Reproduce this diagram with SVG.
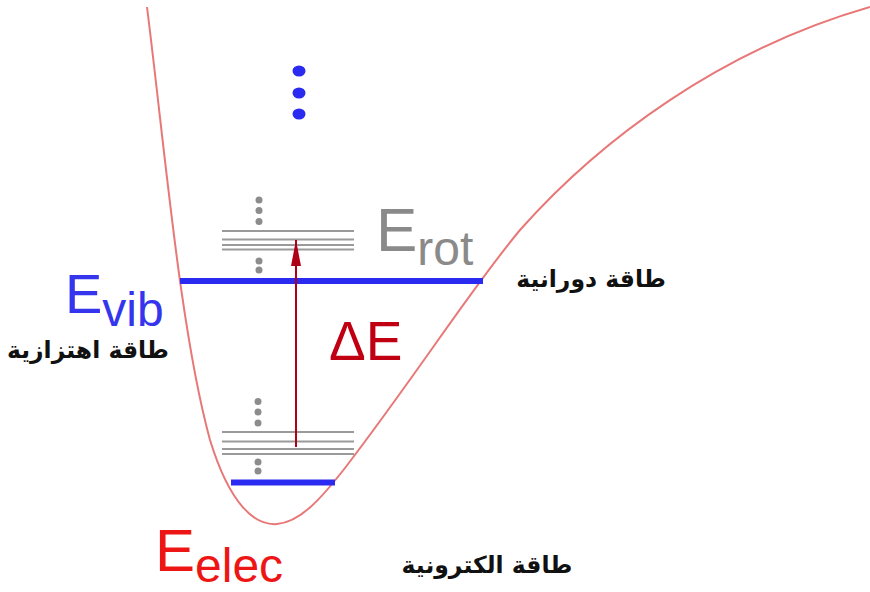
<svg xmlns="http://www.w3.org/2000/svg" width="870" height="592" viewBox="0 0 870 592">
<style>
.curve{fill:none;stroke:#e87878;stroke-width:2}
.lvl{stroke:#2a2af0;stroke-width:6}
.rot{stroke:#9a9a9a;stroke-width:2}
.gd{fill:#8c8c8c}
.bd{fill:#2a2af0}
.lat{font-family:"Liberation Sans",Arial,sans-serif}
.ar{font-family:"DejaVu Sans","Noto Sans",sans-serif;font-weight:bold;font-size:23.5px;fill:#111;text-anchor:middle}
</style>
<defs>
<marker id="ah" markerWidth="26" markerHeight="10" refX="26" refY="5" orient="auto" markerUnits="userSpaceOnUse" viewBox="0 0 26 10">
<path d="M0,0 L26,5 L0,10 Z" fill="#b00018"/>
</marker>
</defs>
<rect width="870" height="592" fill="#fff"/>
<g id="curve">
<path class="curve" d="M147,7 C165,150 180,330 210,440 C230,505 255,526 277,524 C300,522 320,500 345,468 C420,370 470,290 520,230 C600,140 720,50 870,7"/>
</g>
<g id="dots-top">
<ellipse class="bd" cx="299" cy="71" rx="6.5" ry="5.5"/>
<ellipse class="bd" cx="299" cy="93" rx="6.5" ry="5.5"/>
<ellipse class="bd" cx="299" cy="114" rx="6.5" ry="5.5"/>
</g>
<g id="rot-upper">
<line class="rot" x1="222" y1="231" x2="354" y2="231"/>
<line class="rot" x1="222" y1="239.5" x2="354" y2="239.5"/>
<line class="rot" x1="222" y1="245" x2="354" y2="245"/>
<line class="rot" x1="222" y1="249.5" x2="354" y2="249.5"/>
<circle class="gd" cx="259" cy="200" r="3.5"/>
<circle class="gd" cx="259" cy="210.5" r="3.5"/>
<circle class="gd" cx="259" cy="221.5" r="3.5"/>
<circle class="gd" cx="259" cy="261" r="3.5"/>
<circle class="gd" cx="259" cy="270" r="3.5"/>
</g>
<g id="rot-lower">
<line class="rot" x1="222" y1="432" x2="354" y2="432"/>
<line class="rot" x1="222" y1="441.5" x2="354" y2="441.5"/>
<line class="rot" x1="222" y1="449" x2="354" y2="449"/>
<line class="rot" x1="222" y1="454" x2="354" y2="454"/>
<circle class="gd" cx="258" cy="401.5" r="3.5"/>
<circle class="gd" cx="258" cy="412" r="3.5"/>
<circle class="gd" cx="258" cy="423" r="3.5"/>
<circle class="gd" cx="258" cy="462" r="3.5"/>
<circle class="gd" cx="258" cy="471" r="3.5"/>
</g>
<g id="evib-level">
<line class="lvl" x1="180" y1="281" x2="483" y2="281"/>
</g>
<g id="elec-level">
<line class="lvl" x1="231" y1="482.5" x2="335" y2="482.5"/>
</g>
<g id="connectors">
<line x1="296" y1="447" x2="296" y2="240" stroke="#b00018" stroke-width="2" marker-end="url(#ah)"/>
</g>
<g id="label-erot">
<text class="lat" x="376" y="251" font-size="62" fill="#8a8a8a">E<tspan font-size="48" dy="14">rot</tspan></text>
</g>
<g id="label-evib">
<text class="lat" x="65" y="313" font-size="56" fill="#3535ee">E<tspan font-size="48" dy="13">vib</tspan></text>
</g>
<g id="label-eelec">
<text class="lat" x="155" y="571" font-size="60" fill="#ee1515">E<tspan font-size="48" dy="11">elec</tspan></text>
</g>
<g id="label-de">
<text class="lat" x="329" y="360" font-size="55" fill="#c00012">ΔE</text>
</g>
<g id="label-ar-rot"><text class="ar" x="591" y="287">طاقة دورانية</text></g>
<g id="label-ar-vib"><text class="ar" x="88" y="358">طاقة اهتزازية</text></g>
<g id="label-ar-elec"><text class="ar" x="487" y="573">طاقة الكترونية</text></g>
</svg>
